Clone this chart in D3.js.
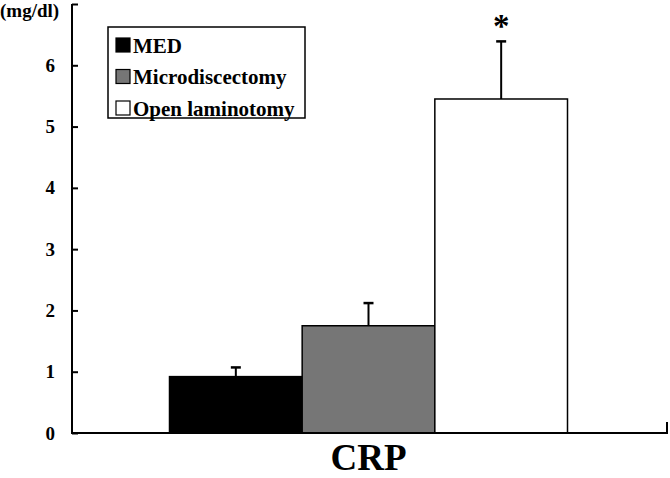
<!DOCTYPE html>
<html>
<head>
<meta charset="utf-8">
<script src="https://cdn.jsdelivr.net/npm/d3@7"></script>
<style>
	body { margin: 0; background: #fff; }
	svg { display: block; font-family: "Liberation Serif", "Times New Roman", serif; font-weight: bold; }
</style>
</head>
<body>
<svg id="chart" width="670" height="478"></svg>
<script>
// chart values
const categories = ['CRP'];
const groups = ['MED', 'Microdiscectomy', 'Open laminotomy'];
const means = [0.92, 1.75, 5.45];
const errors = [0.15, 0.37, 0.94];
const significant = [false, false, true];
const yTicks = [0, 1, 2, 3, 4, 5, 6, 7];

const fills = ['#000000', '#767676', '#ffffff'];

const W = 670, H = 478;
const margin = { left: 72, right: 1, top: 4, bottom: 45 };

const svg = d3.select('svg#chart');

const y = d3.scaleLinear().domain([0, 7]).range([H - margin.bottom, margin.top]);
const xOuter = d3.scaleBand().domain(categories)
	.range([margin.left, W - margin.right])
	.paddingInner(0.2).paddingOuter(0.2);
const xInner = d3.scaleBand().domain(groups)
	.range([0, xOuter.bandwidth()]);

const rows = groups.map((g, i) => ({ g, mean: means[i], err: errors[i], sig: significant[i], fill: fills[i] }));

// bars
const grp = svg.append('g').attr('transform', `translate(${xOuter(categories[0]) - 2},0)`);
grp.selectAll('rect.bar').data(rows).enter().append('rect')
	.attr('class', 'bar')
	.attr('x', d => xInner(d.g))
	.attr('y', d => y(d.mean))
	.attr('width', xInner.bandwidth())
	.attr('height', d => y(0) - y(d.mean))
	.attr('fill', d => d.fill)
	.attr('stroke', '#000')
	.attr('stroke-width', 1.5);

// error bars (upper only)
const cx = d => xInner(d.g) + xInner.bandwidth() / 2;
grp.selectAll('line.err').data(rows).enter().append('line')
	.attr('class', 'err')
	.attr('x1', cx).attr('x2', cx)
	.attr('y1', d => y(d.mean)).attr('y2', d => y(d.mean + d.err))
	.attr('stroke', '#000').attr('stroke-width', 2);
grp.selectAll('line.cap').data(rows).enter().append('line')
	.attr('class', 'cap')
	.attr('x1', d => cx(d) - 5).attr('x2', d => cx(d) + 5)
	.attr('y1', d => y(d.mean + d.err)).attr('y2', d => y(d.mean + d.err))
	.attr('stroke', '#000').attr('stroke-width', 2.5);
grp.selectAll('text.sig').data(rows.filter(d => d.sig)).enter().append('text')
	.attr('class', 'sig')
	.attr('x', cx)
	.attr('y', d => y(d.mean + d.err) - 4)
	.attr('text-anchor', 'middle')
	.attr('font-size', '33px')
	.text('*');

// y axis, ticks pointing inward
const yAxis = svg.append('g')
	.attr('transform', `translate(${margin.left},0)`)
	.call(d3.axisLeft(y).tickValues(yTicks).tickSize(-6).tickPadding(17)
		.tickFormat(d => d === 7 ? '' : d));
yAxis.select('.domain').remove();
yAxis.append('line')
	.attr('x1', 0).attr('x2', 0).attr('y1', y(7)).attr('y2', y(0))
	.attr('stroke', '#000').attr('stroke-width', 2);
yAxis.selectAll('.tick line').attr('stroke', '#000').attr('stroke-width', 2);
yAxis.selectAll('.tick text')
	.attr('fill', '#000')
	.attr('font-family', '"Liberation Serif", serif')
	.attr('font-weight', 'bold')
	.attr('font-size', '19px');

// x axis line with end tick
const x0 = xOuter.range()[0], x1 = xOuter.range()[1];
svg.append('line')
	.attr('x1', x0 - 1).attr('x2', x1 - 1).attr('y1', y(0)).attr('y2', y(0))
	.attr('stroke', '#000').attr('stroke-width', 2);
svg.append('line')
	.attr('x1', x1 - 2).attr('x2', x1 - 2).attr('y1', y(0)).attr('y2', y(0) - 11)
	.attr('stroke', '#000').attr('stroke-width', 2);

// category label
svg.append('text')
	.attr('x', xOuter(categories[0]) + xOuter.bandwidth() / 2 - 2)
	.attr('y', 470)
	.attr('text-anchor', 'middle')
	.attr('font-size', '37px')
	.text(categories[0]);

// unit label
svg.append('text')
	.attr('x', 0).attr('y', 17)
	.attr('font-size', '19px')
	.text('(mg/dl)');

// legend
const legend = svg.append('g').attr('transform', 'translate(108,27)');
legend.append('rect')
	.attr('width', 197).attr('height', 91)
	.attr('fill', '#fff').attr('stroke', '#000').attr('stroke-width', 1.5);
const item = legend.selectAll('g.item').data(rows).enter().append('g')
	.attr('class', 'item')
	.attr('transform', (d, i) => `translate(8,${18 + i * 31.5})`);
item.append('rect')
	.attr('x', 0).attr('y', -7).attr('width', 14).attr('height', 14)
	.attr('fill', d => d.fill).attr('stroke', '#000').attr('stroke-width', 1.2);
item.append('text')
	.attr('x', 17).attr('y', 7.5)
	.attr('font-size', '21px')
	.text(d => d.g);
</script>
</body>
</html>
